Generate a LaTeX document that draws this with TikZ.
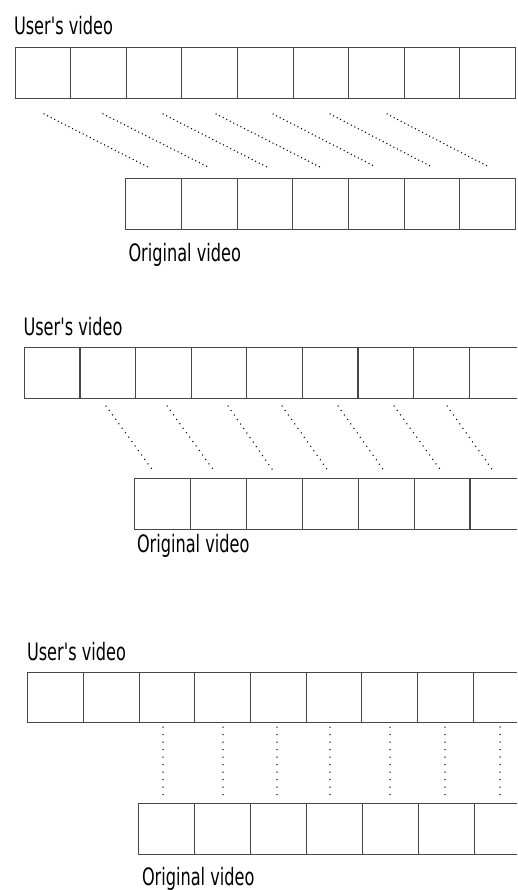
\documentclass[tikz,border=0pt]{standalone}
\usepackage{graphicx}
\usepackage{fontspec}
\newfontfamily\lblfont{DejaVu Sans}[Ligatures=TeXOff]
\newcommand\sqz[1]{\scalebox{0.673}[1]{#1}}
\begin{document}
\begin{tikzpicture}[x=1pt,y=-1pt,
  cell/.style={draw=black!72,line width=1pt,minimum width=55.7pt,minimum height=50.8pt,
    inner sep=0pt,outer sep=0pt,anchor=north west},
  lbl/.style={anchor=base west,inner sep=0pt,outer sep=0pt,text=black,
    font=\lblfont\fontsize{24}{24}\selectfont},
  dotsA/.style={draw=black,line width=1.5pt,line cap=round,dash pattern=on 0pt off 4pt},
  dotsB/.style={draw=black,line width=1.5pt,line cap=round,dash pattern=on 0pt off 5.5pt},
  dotsC/.style={draw=black,line width=1.5pt,line cap=round,dash pattern=on 0pt off 7.5pt}]
\useasboundingbox (0,0) rectangle (517,890);
\clip (0,0) rectangle (517,890);

% ---------- panel 1 ----------
\node[lbl] (u1) at (14,34.3) {\sqz{User's video}};
\foreach \i in {0,...,8} \node[cell] (a\i) at (15+55.6*\i,47.7) {};
\foreach \i in {0,...,6} \node[cell] (b\i) at (125.7+55.7*\i,178.3) {};
\node[lbl] (o1) at (128.5,261.7) {\sqz{Original video}};
\foreach \i/\s/\e in {1/44/148,2/103/208,3/163/267,4/216/320,5/273/376,6/330/432,7/387/489}{
  \coordinate (as\i) at (\s,114);
  \coordinate (ae\i) at (\e,167);
  \draw[dotsA] (as\i) -- (ae\i);
}

% ---------- panel 2 ----------
\node[lbl] (u2) at (23.5,335) {\sqz{User's video}};
\foreach \i in {0,...,8} \node[cell] (c\i) at (24.3+55.6*\i,347.5) {};
\foreach \i in {0,...,6} \node[cell] (d\i) at (134.7+55.9*\i,478.3) {};
\node[lbl] (o2) at (137,552.5) {\sqz{Original video}};
\foreach \i/\s/\e in {1/106/154,2/167/215,3/228/274,4/282/329,5/338/385,6/394/442,7/447/494}{
  \coordinate (cs\i) at (\s,406);
  \coordinate (ce\i) at (\e,472);
  \draw[dotsB] (cs\i) -- (ce\i);
}

% ---------- panel 3 ----------
\node[lbl] (u3) at (27,660) {\sqz{User's video}};
\foreach \i in {0,...,8} \node[cell] (e\i) at (27.7+55.7*\i,672) {};
\foreach \i in {0,...,6} \node[cell] (f\i) at (138.3+56*\i,803.3) {};
\node[lbl] (o3) at (142,885) {\sqz{Original video}};
\foreach \i/\x in {1/163,2/223,3/277,4/330,5/390,6/445,7/500}{
  \coordinate (es\i) at (\x,727);
  \coordinate (ee\i) at (\x,796.5);
  \draw[dotsC] (es\i) -- (ee\i);
}
\end{tikzpicture}
\end{document}
